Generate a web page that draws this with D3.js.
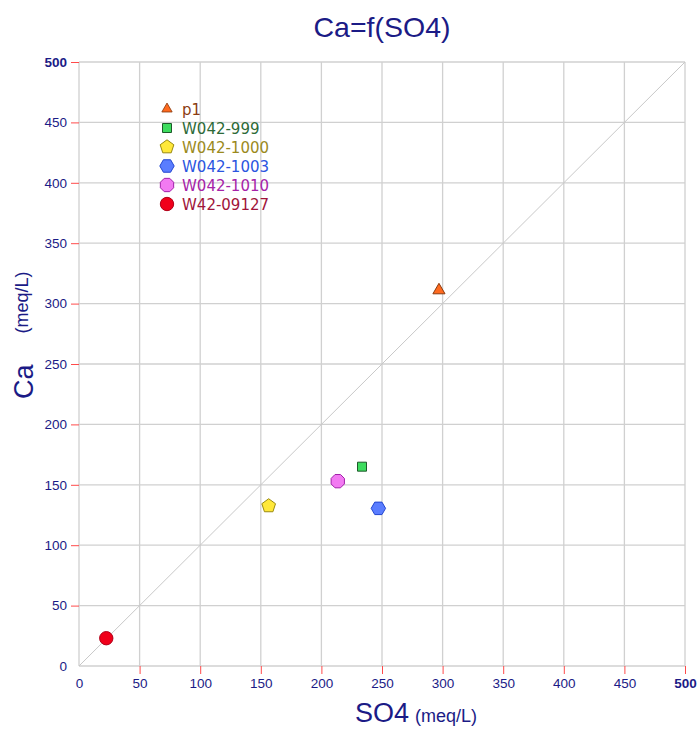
<!DOCTYPE html>
<html>
<head>
<meta charset="utf-8">
<script src="https://cdn.jsdelivr.net/npm/d3@7"></script>
<style>
  body { margin: 0; background: #fff; }
  svg { display: block; font-family: "Liberation Sans", Arial, sans-serif; }
</style>
</head>
<body>
<svg id="chart" width="699" height="729"></svg>
<script>
// Samples: SO4 (x) and Ca (y), both in meq/L
const sampleNames = ["p1", "W042-999", "W042-1000", "W042-1003", "W042-1010", "W42-09127"];
const so4Values = [297, 233.5, 156.5, 247, 213.5, 22.5];
const caValues = [311, 165, 132.5, 130.5, 153, 23];
const markerShapes = ["triangle", "square", "pentagon", "hexagon", "octagon", "circle"];
const fillColors = ["#ff6a1f", "#3ddc5e", "#ffe83a", "#5a7dff", "#f27af2", "#f0001a"];
const strokeColors = ["#8a3a0e", "#1d5a2a", "#9a8a10", "#2246d0", "#a020a8", "#b00018"];
const labelColors = ["#8b3d12", "#2d6a38", "#9b8a1c", "#2a55e0", "#a623a8", "#a0143a"];
const tickValues = [0, 50, 100, 150, 200, 250, 300, 350, 400, 450, 500];

const navy = "#1b1b86";
const svg = d3.select("#chart");
const plotLeft = 79, plotRight = 685, plotTop = 62, plotBottom = 666;

const x = d3.scaleLinear().domain([0, 500]).range([plotLeft, plotRight]);
const y = d3.scaleLinear().domain([0, 500]).range([plotBottom, plotTop]);

// grid
const grid = svg.append("g");
grid.selectAll("line.v").data(tickValues).join("line").attr("class", "v")
  .attr("x1", d => x(d)).attr("x2", d => x(d))
  .attr("y1", plotTop).attr("y2", plotBottom)
  .attr("stroke", "#d0d0d0").attr("stroke-width", 1.3);
grid.selectAll("line.h").data(tickValues).join("line").attr("class", "h")
  .attr("y1", d => y(d)).attr("y2", d => y(d))
  .attr("x1", plotLeft).attr("x2", plotRight)
  .attr("stroke", "#d0d0d0").attr("stroke-width", 1.3);

// 1:1 line
svg.append("line")
  .attr("x1", x(0)).attr("y1", y(0)).attr("x2", x(500)).attr("y2", y(500))
  .attr("stroke", "#c8c8c8").attr("stroke-width", 1);

// axes
const xAxis = d3.axisBottom(x).tickValues(tickValues).tickSize(8).tickPadding(4);
const yAxis = d3.axisLeft(y).tickValues(tickValues).tickSize(8).tickPadding(4);

const gx = svg.append("g").attr("transform", `translate(0,${plotBottom})`).call(xAxis);
const gy = svg.append("g").attr("transform", `translate(${plotLeft},0)`).call(yAxis);
[gx, gy].forEach(g => {
  g.select(".domain").remove();
  g.selectAll(".tick line").attr("stroke", "#ff4a4a").attr("stroke-width", 1);
  g.selectAll(".tick text")
    .attr("fill", navy)
    .style("font-size", "13.5px")
    .style("font-family", "Liberation Sans, Arial, sans-serif")
    .style("font-weight", d => d === 500 ? "bold" : "normal");
});
// the tick mark at the zero corner is covered by the frame
gx.selectAll(".tick").filter(d => d === 0).select("line").remove();
gy.selectAll(".tick").filter(d => d === 0).select("line").remove();

// titles
svg.append("text").attr("x", 382).attr("y", 37).attr("text-anchor", "middle")
  .attr("fill", navy).style("font-size", "28.5px").text("Ca=f(SO4)");

const xl = svg.append("text").attr("x", 355).attr("y", 722).attr("fill", navy);
xl.append("tspan").style("font-size", "27px").text("SO4");
xl.append("tspan").style("font-size", "18px").attr("dx", 6).text("(meq/L)");

const yl = svg.append("text").attr("transform", "translate(33,399) rotate(-90)").attr("fill", navy);
yl.append("tspan").style("font-size", "27px").text("Ca");
yl.append("tspan").style("font-size", "18px").attr("dx", 31).attr("dy", -5).text("(meq/L)");

// marker paths
function polygon(n, r, rot) {
  const p = d3.range(n).map(i => {
    const a = rot + i * 2 * Math.PI / n;
    return [r * Math.sin(a), -r * Math.cos(a)];
  });
  return "M" + p.map(q => q.join(",")).join("L") + "Z";
}
function markerPath(shape) {
  switch (shape) {
    case "triangle": return polygon(3, 7, 0);
    case "square": return "M-4.5,-4.5L4.5,-4.5L4.5,4.5L-4.5,4.5Z";
    case "pentagon": return polygon(5, 7.2, 0);
    case "hexagon": return polygon(6, 7.2, Math.PI / 6);
    case "octagon": return polygon(8, 7.2, Math.PI / 8);
    default: return d3.symbol(d3.symbolCircle, 140)();
  }
}

// data points
const samples = sampleNames.map((n, i) => ({ name: n, so4: so4Values[i], ca: caValues[i], i }));
svg.append("g").selectAll("path").data(samples).join("path")
  .attr("transform", d => `translate(${x(d.so4)},${y(d.ca)})`)
  .attr("d", d => markerPath(markerShapes[d.i]))
  .attr("fill", d => fillColors[d.i])
  .attr("stroke", d => strokeColors[d.i])
  .attr("stroke-width", 1);

// legend
const legend = svg.append("g").attr("transform", "translate(167,109)");
const rows = legend.selectAll("g").data(samples).join("g")
  .attr("transform", (d, i) => `translate(0,${i * 19})`);
rows.append("path")
  .attr("d", d => markerPath(markerShapes[d.i]))
  .attr("transform", d => d.i === 0 ? "scale(0.85)" : null)
  .attr("fill", d => fillColors[d.i])
  .attr("stroke", d => strokeColors[d.i]);
rows.append("text").attr("x", 15).attr("y", 5.5)
  .attr("fill", d => labelColors[d.i])
  .style("font-family", "DejaVu Sans, Verdana, sans-serif")
  .style("font-size", "15px").text(d => d.name);
</script>
</body>
</html>
